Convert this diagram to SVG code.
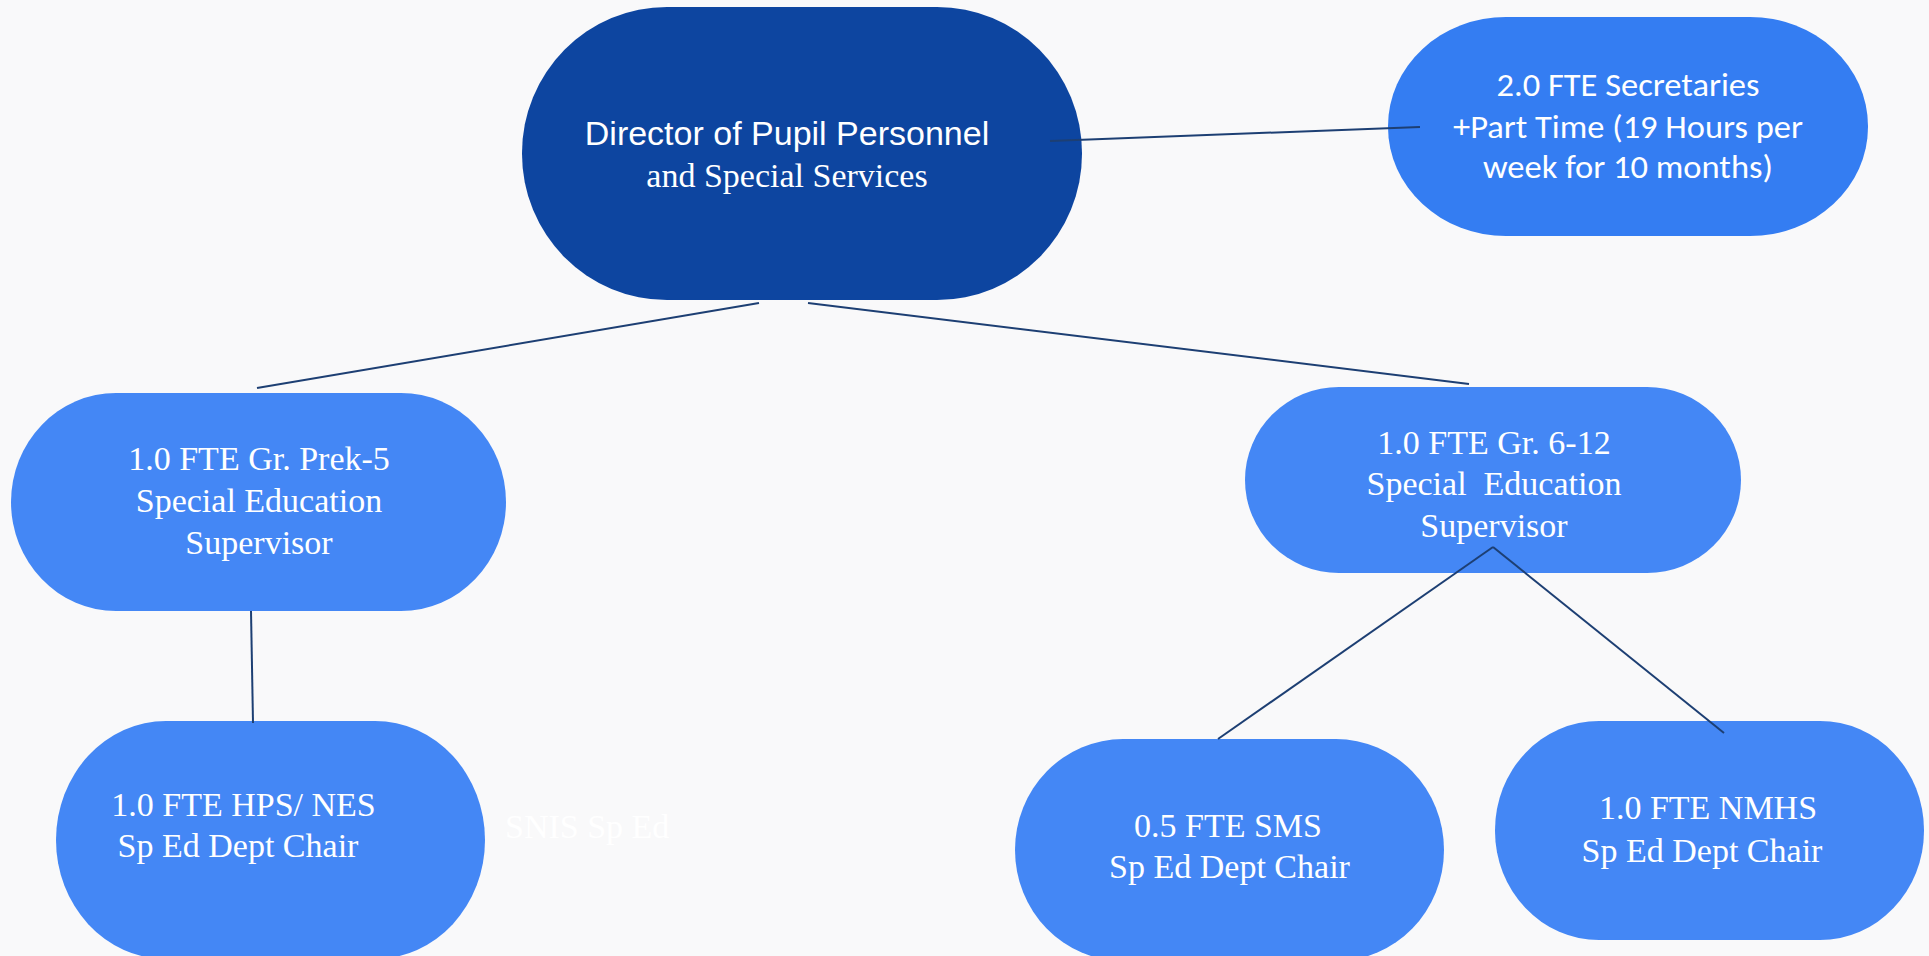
<svg xmlns="http://www.w3.org/2000/svg" width="1929" height="956" viewBox="0 0 1929 956">
<style>
.bg{fill:#f9f9fa}
.dir{fill:#0d45a0}
.sec{fill:#347df2}
.node{fill:#4487f5}
.serif{font-family:"Liberation Serif","Times New Roman",serif;font-size:34px;fill:#ffffff;text-anchor:middle}
.sans{font-family:"Liberation Sans",Arial,sans-serif;font-size:34px;fill:#ffffff;text-anchor:middle}
.cal{font-family:Carlito,Lato,"Open Sans",sans-serif;font-size:33px;fill:#ffffff;text-anchor:middle}
.conn line{stroke:#1d3f73;stroke-width:2;fill:none}
</style>
<rect class="bg" x="0" y="0" width="1929" height="956"/>
<g id="director">
<rect class="dir" x="522" y="7" width="560" height="293" rx="145" ry="146"/>
<text class="sans" x="787" y="145">Director of Pupil Personnel</text>
<text class="serif" x="787" y="187">and Special Services</text>
</g>
<g id="secretaries">
<rect class="sec" x="1388" y="17" width="480" height="219" rx="118" ry="109"/>
<text class="cal" x="1628" y="96" textLength="263" lengthAdjust="spacingAndGlyphs">2.0 FTE Secretaries</text>
<text class="cal" x="1628" y="138" textLength="350" lengthAdjust="spacingAndGlyphs">+Part Time (19 Hours per</text>
<text class="cal" x="1628" y="178" textLength="290" lengthAdjust="spacingAndGlyphs">week for 10 months)</text>
</g>
<g id="prek5">
<rect class="node" x="11" y="393" width="495" height="218" rx="105" ry="109"/>
<text class="serif" x="259" y="470">1.0 FTE Gr. Prek-5</text>
<text class="serif" x="259" y="512">Special Education</text>
<text class="serif" x="259" y="554">Supervisor</text>
</g>
<g id="gr612">
<rect class="node" x="1245" y="387" width="496" height="186" rx="94" ry="93"/>
<text class="serif" x="1494" y="454">1.0 FTE Gr. 6-12</text>
<text class="serif" x="1494" y="495" xml:space="preserve">Special  Education</text>
<text class="serif" x="1494" y="537">Supervisor</text>
</g>
<g id="hps">
<rect class="node" x="56" y="721" width="429" height="238" rx="110" ry="119"/>
<text class="serif" x="243.5" y="816">1.0 FTE HPS/ NES</text>
<text class="serif" x="238" y="857">Sp Ed Dept Chair</text>
</g>
<g id="snis">
<text class="serif" x="505" y="838" style="text-anchor:start;fill:#ffffff">SNIS Sp Ed</text>
</g>
<g id="sms">
<rect class="node" x="1015" y="739" width="429" height="222" rx="108" ry="111"/>
<text class="serif" x="1228" y="837">0.5 FTE SMS</text>
<text class="serif" x="1229.5" y="878">Sp Ed Dept Chair</text>
</g>
<g id="nmhs">
<rect class="node" x="1495" y="721" width="429" height="219" rx="104" ry="109"/>
<text class="serif" x="1708" y="819">1.0 FTE NMHS</text>
<text class="serif" x="1702" y="862">Sp Ed Dept Chair</text>
</g>
<g class="conn" id="connectors">
<line x1="1050" y1="141" x2="1420" y2="127"/>
<line x1="759" y1="303" x2="257" y2="388"/>
<line x1="808" y1="303" x2="1469" y2="384"/>
<line x1="251" y1="611" x2="253" y2="723"/>
<line x1="1493" y1="547" x2="1218" y2="739"/>
<line x1="1493" y1="547" x2="1724" y2="733"/>
</g>
</svg>
